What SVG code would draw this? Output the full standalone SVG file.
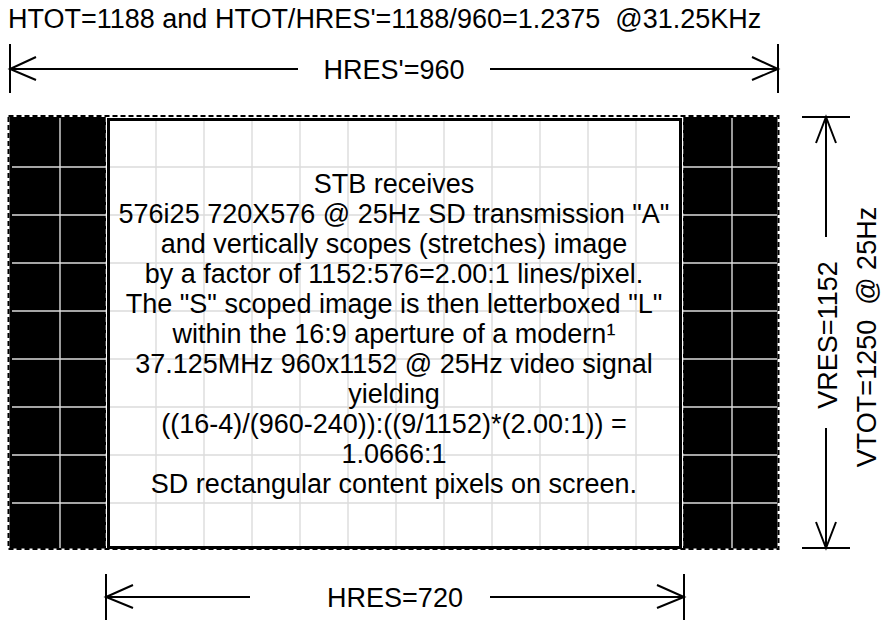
<svg xmlns="http://www.w3.org/2000/svg" width="882" height="621" viewBox="0 0 882 621">
<style>
text{font-family:"Liberation Sans",Arial,sans-serif;font-size:27px;fill:#000;white-space:pre}
.mid{text-anchor:middle}
.ln{stroke:#000;stroke-width:2;fill:none;stroke-linecap:butt}
.grid{stroke:#dcdcdc;stroke-width:1.4}
</style>
<rect width="882" height="621" fill="#fff"/>
<g id="title"><text x="8" y="28" xml:space="preserve">HTOT=1188 and HTOT/HRES'=1188/960=1.2375  @31.25KHz</text></g>
<g id="screen">
<rect x="9.5" y="117" width="96.5" height="431.5" fill="#000"/>
<rect x="683" y="117" width="94.5" height="431.5" fill="#000"/>
<rect x="108.5" y="119.5" width="572" height="428" fill="#fff"/>
<g class="grid">
<path d="M12,167H777M12,215H777M12,263H777M12,311H777M12,359H777M12,407H777M12,455H777M12,503H777"/>
<path d="M60,118V548M156,118V548M204,118V548M252,118V548M300,118V548M348,118V548M396,118V548M444,118V548M492,118V548M540,118V548M588,118V548M636,118V548M732,118V548"/>
</g>
<path d="M106.5,117V548.5M682.5,117V548.5" stroke="#fff" stroke-width="1.5" stroke-dasharray="5 3"/>
<rect x="108.5" y="119.5" width="572" height="428" fill="none" stroke="#000" stroke-width="3"/>
<rect x="8.5" y="116" width="770" height="433" fill="none" stroke="#000" stroke-width="2" stroke-dasharray="5 3"/>
</g>
<g id="content">
<text class="mid" x="394" y="193">STB receives</text>
<text class="mid" x="394" y="223">576i25 720X576 @ 25Hz SD transmission "A"</text>
<text class="mid" x="394" y="253">and vertically scopes (stretches) image</text>
<text class="mid" x="394" y="283">by a factor of 1152:576=2.00:1 lines/pixel.</text>
<text class="mid" x="394" y="313">The "S" scoped image is then letterboxed "L"</text>
<text class="mid" x="394" y="343">within the 16:9 aperture of a modern¹</text>
<text class="mid" x="394" y="373">37.125MHz 960x1152 @ 25Hz video signal</text>
<text class="mid" x="394" y="403">yielding</text>
<text class="mid" x="394" y="433">((16-4)/(960-240)):((9/1152)*(2.00:1)) =</text>
<text class="mid" x="394" y="463">1.0666:1</text>
<text class="mid" x="394" y="493">SD rectangular content pixels on screen.</text>
</g>
<g id="connectors">
<g id="hres-total">
<path class="ln" d="M10,44V93M778,44V93M10,69H298M490,69H778M36,57L10,69L36,80M752,57L778,69L752,80"/>
<text class="mid" x="394" y="79">HRES'=960</text>
</g>
<g id="hres-active">
<path class="ln" d="M106,574V620M684,574V620M106,597H250M490,597H684M133,585L106,597L133,608M657,585L684,597L657,608"/>
<text class="mid" x="395" y="607">HRES=720</text>
</g>
<g id="vres">
<path class="ln" d="M802,117H850M802,548H850M826,117V237M826,428V548M816,143L826,117L836,143M816,522L826,548L836,522"/>
<text class="mid" transform="translate(837,335) rotate(-90)">VRES=1152</text>
</g>
<g id="vtot">
<text class="mid" transform="translate(876,337) rotate(-90)" xml:space="preserve">VTOT=1250  @ 25Hz</text>
</g>
</g>
</svg>
